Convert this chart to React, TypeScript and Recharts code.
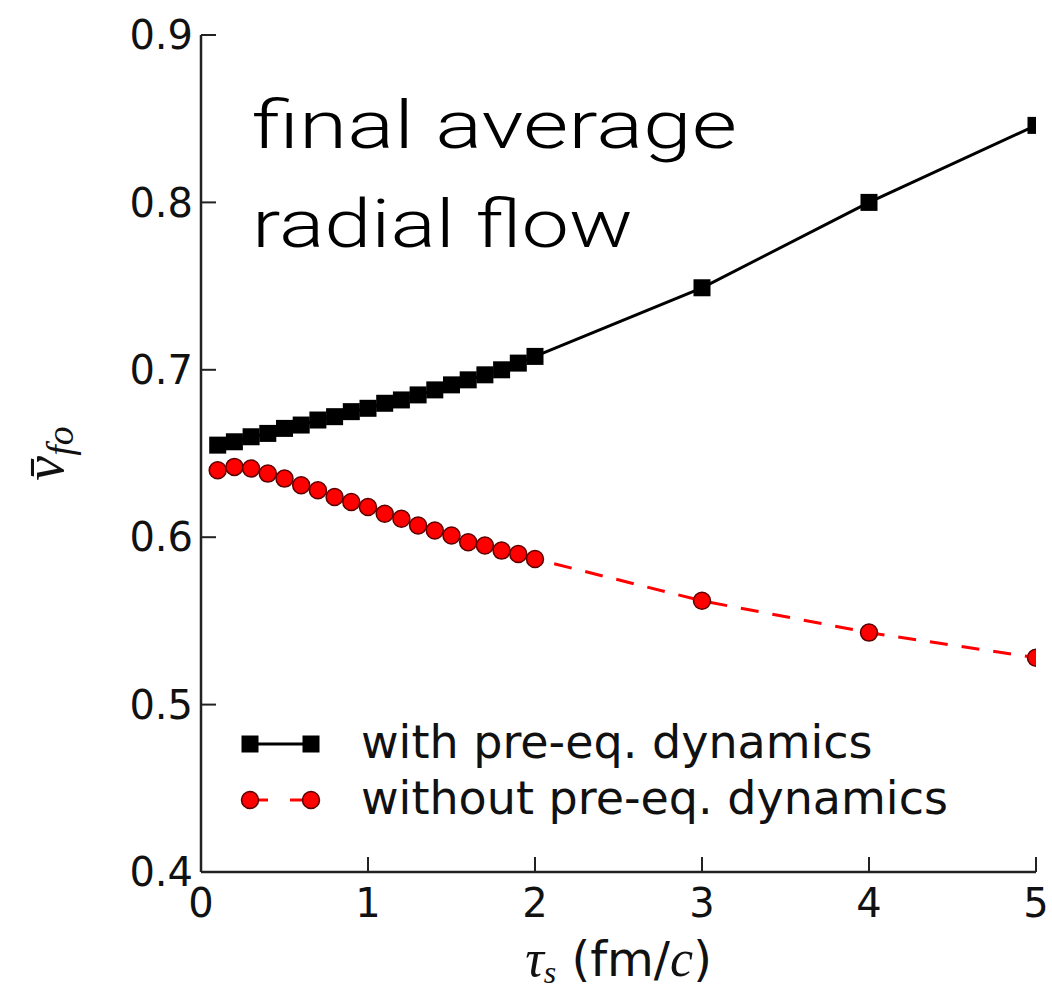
import React from "react";
import { LineChart, Line, XAxis, YAxis, Legend } from "recharts";

// tau_s (fm/c) values of the simulation runs
const tauS = [
  0.1, 0.2, 0.3, 0.4, 0.5, 0.6, 0.7, 0.8, 0.9, 1.0,
  1.1, 1.2, 1.3, 1.4, 1.5, 1.6, 1.7, 1.8, 1.9, 2.0,
  3, 4, 5,
];

// final average radial flow, with pre-equilibrium dynamics
const withPreEq = [
  0.655, 0.657, 0.66, 0.662, 0.665, 0.667, 0.67, 0.672, 0.675, 0.677,
  0.68, 0.682, 0.685, 0.688, 0.691, 0.694, 0.697, 0.7, 0.704, 0.708,
  0.749, 0.8, 0.846,
];

// ... and without it
const withoutPreEq = [
  0.64, 0.642, 0.641, 0.638, 0.635, 0.631, 0.628, 0.624, 0.621, 0.618,
  0.614, 0.611, 0.607, 0.604, 0.601, 0.597, 0.595, 0.592, 0.59, 0.587,
  0.562, 0.543, 0.528,
];

const xTicks = [0, 1, 2, 3, 4, 5];
const yTicks = [0.4, 0.5, 0.6, 0.7, 0.8, 0.9];
const seriesNames = ["with pre-eq. dynamics", "without pre-eq. dynamics"];
const noteLines = ["final average", "radial flow"];

const rows = tauS.map((t, i) => ({
  tau: t,
  withEq: withPreEq[i],
  withoutEq: withoutPreEq[i],
}));

const FRAME = "#222";
const SQ = 17; // square marker side
const R = 8.5; // circle marker radius
const tickFont = { fontSize: 40, fill: "#111", fontFamily: "DejaVu Sans" };

const SquareDot = (props: any) => {
  const { cx, cy } = props;
  if (cx == null || cy == null) return null;
  return <rect x={cx - SQ / 2} y={cy - SQ / 2} width={SQ} height={SQ} fill="#000" />;
};

const CircleDot = (props: any) => {
  const { cx, cy } = props;
  if (cx == null || cy == null) return null;
  return <circle cx={cx} cy={cy} r={R} fill="#ff0000" stroke="#5a0000" strokeWidth={1.5} />;
};

const LegendBox = ({ payload }: any) => (
  <svg width={780} height={130} style={{ display: "block" }}>
    {(payload || []).map((p: any, i: number) => {
      const y = 44 + i * 56;
      const dashed = p.type === "circle";
      return (
        <g key={p.value}>
          {dashed ? (
            <>
              <line x1={30} x2={48} y1={y} y2={y} stroke="#ff0000" strokeWidth={3} />
              <line x1={70} x2={91} y1={y} y2={y} stroke="#ff0000" strokeWidth={3} />
              <circle cx={30} cy={y} r={R} fill="#ff0000" stroke="#5a0000" strokeWidth={1.5} />
              <circle cx={91} cy={y} r={R} fill="#ff0000" stroke="#5a0000" strokeWidth={1.5} />
            </>
          ) : (
            <>
              <line x1={30} x2={91} y1={y} y2={y} stroke="#000" strokeWidth={3} />
              <rect x={30 - SQ / 2} y={y - SQ / 2} width={SQ} height={SQ} fill="#000" />
              <rect x={91 - SQ / 2} y={y - SQ / 2} width={SQ} height={SQ} fill="#000" />
            </>
          )}
          <text x={141} y={y + 14} fontSize={46} fontFamily="DejaVu Sans" fill="#111">
            {p.value}
          </text>
        </g>
      );
    })}
  </svg>
);

const XLabel = ({ viewBox }: any) => {
  const cx = viewBox.x + viewBox.width / 2;
  const y = viewBox.y + 104;
  return (
    <text x={cx} y={y} textAnchor="middle" fontSize={48} fill="#111" fontFamily="DejaVu Sans">
      <tspan fontFamily="Liberation Serif" fontStyle="italic" fontSize={52}>τ</tspan>
      <tspan fontFamily="Liberation Serif" fontStyle="italic" fontSize={32} dy={7}>s</tspan>
      <tspan dy={-7}>{"  (fm/"}</tspan>
      <tspan fontFamily="Liberation Serif" fontStyle="italic" fontSize={52}>c</tspan>
      <tspan>)</tspan>
    </text>
  );
};

const YLabel = ({ viewBox }: any) => {
  const cy = viewBox.y + viewBox.height / 2;
  const x = viewBox.x + 63;
  return (
    <text
      transform={`translate(${x}, ${cy}) rotate(-90)`}
      textAnchor="middle"
      fontFamily="Liberation Serif"
      fontStyle="italic"
      fill="#111"
      fontSize={56}
    >
      <tspan>{"v\u0304"}</tspan>
      <tspan fontSize={38} dy={10}>fo</tspan>
    </text>
  );
};

export default function App() {
  return (
    <div style={{ position: "absolute", left: 0, top: 0, width: 1052, height: 993, background: "#fff" }}>
      <LineChart width={1052} height={993} data={rows} margin={{ top: 35, right: 16, bottom: 0, left: 0 }}>
        <XAxis
          dataKey="tau"
          type="number"
          domain={[0, 5]}
          ticks={xTicks}
          interval={0}
          allowDataOverflow
          height={121}
          tickSize={-15}
          tickMargin={32}
          tick={tickFont}
          axisLine={{ stroke: FRAME, strokeWidth: 2.5 }}
          tickLine={{ stroke: FRAME, strokeWidth: 2 }}
          label={{ content: <XLabel /> }}
        />
        <XAxis
          xAxisId="top"
          orientation="top"
          dataKey="tau"
          type="number"
          domain={[0, 5]}
          ticks={xTicks}
          interval={0}
          height={0}
          tickSize={-15}
          tickFormatter={() => ""}
          axisLine={{ stroke: FRAME, strokeWidth: 2.5 }}
          tickLine={{ stroke: FRAME, strokeWidth: 2 }}
        />
        <YAxis
          type="number"
          domain={[0.4, 0.9]}
          ticks={yTicks}
          interval={0}
          allowDataOverflow
          width={201}
          tickSize={-15}
          tickMargin={23}
          tick={tickFont}
          tickFormatter={(v: number) => v.toFixed(1)}
          axisLine={{ stroke: FRAME, strokeWidth: 2.5 }}
          tickLine={{ stroke: FRAME, strokeWidth: 2 }}
          label={{ content: <YLabel /> }}
        />
        <YAxis
          yAxisId="right"
          orientation="right"
          type="number"
          domain={[0.4, 0.9]}
          ticks={yTicks}
          interval={0}
          width={0}
          tickSize={-15}
          tickFormatter={() => ""}
          axisLine={{ stroke: FRAME, strokeWidth: 2.5 }}
          tickLine={{ stroke: FRAME, strokeWidth: 2 }}
        />
        <Line
          dataKey="withEq"
          name={seriesNames[0]}
          stroke="#000"
          strokeWidth={3}
          dot={<SquareDot />}
          activeDot={false}
          legendType="square"
          isAnimationActive={false}
        />
        <Line
          dataKey="withoutEq"
          name={seriesNames[1]}
          stroke="#ff0000"
          strokeWidth={3}
          strokeDasharray="18 14"
          dot={<CircleDot />}
          activeDot={false}
          legendType="circle"
          isAnimationActive={false}
        />
        <Legend
          layout="vertical"
          verticalAlign="middle"
          align="center"
          content={<LegendBox />}
          wrapperStyle={{ left: 220, top: 700, width: 780 }}
        />
        <text fontFamily="Roboto" fontWeight={300} fontSize={66} fill="#000">
          <tspan x={252} y={148} textLength={485} lengthAdjust="spacingAndGlyphs">{noteLines[0]}</tspan>
          <tspan x={252} y={247} textLength={381} lengthAdjust="spacingAndGlyphs">{noteLines[1]}</tspan>
        </text>
      </LineChart>
    </div>
  );
}
